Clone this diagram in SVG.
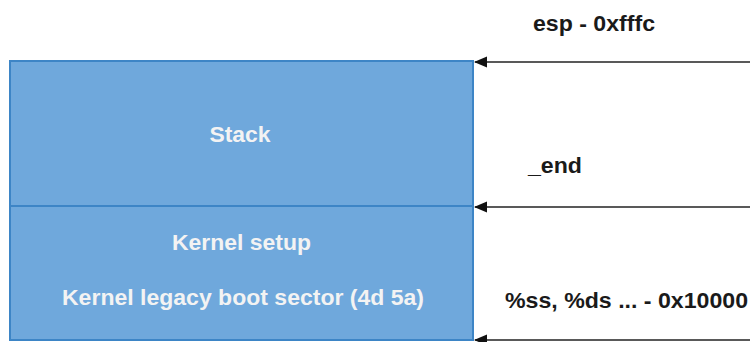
<svg xmlns="http://www.w3.org/2000/svg" width="750" height="342" viewBox="0 0 750 342">
<style>
.box{fill:#6fa8dc;stroke:#3d85c6;stroke-width:2}
.in{font-family:"Liberation Sans",Arial,sans-serif;font-weight:bold;font-size:22px;fill:#f3f3f3;text-anchor:middle}
.lbl{font-family:"Liberation Sans",Arial,sans-serif;font-weight:bold;font-size:22px;fill:#1a1a1a}
.arr{stroke:#595959;stroke-width:2;fill:none;marker-end:url(#ah)}
</style>
<defs>
<marker id="ah" markerWidth="14" markerHeight="14" refX="12" refY="7" orient="auto" markerUnits="userSpaceOnUse">
<path d="M0,1.5 L13,7 L0,12.5 Z" fill="#111"/>
</marker>
</defs>
<rect width="750" height="342" fill="#fff"/>
<g id="stack">
<rect class="box" x="10" y="61" width="463" height="145"/>
<text class="in" x="240" y="142" textLength="61" lengthAdjust="spacingAndGlyphs">Stack</text>
</g>
<g id="kernel">
<rect class="box" x="10" y="206" width="463" height="134"/>
<text class="in" x="241.5" y="250" textLength="139" lengthAdjust="spacingAndGlyphs">Kernel setup</text>
<text class="in" x="243" y="305" textLength="362" lengthAdjust="spacingAndGlyphs">Kernel legacy boot sector (4d 5a)</text>
</g>
<g id="connectors">
<line class="arr" x1="750" y1="62" x2="475" y2="62"/>
<line class="arr" x1="750" y1="207" x2="475" y2="207"/>
<line class="arr" x1="750" y1="340" x2="475" y2="340"/>
</g>
<g id="labels">
<text class="lbl" x="533" y="31" textLength="122" lengthAdjust="spacingAndGlyphs">esp - 0xfffc</text>
<text class="lbl" x="528" y="173" textLength="54" lengthAdjust="spacingAndGlyphs">_end</text>
<text class="lbl" x="505" y="308" textLength="243" lengthAdjust="spacingAndGlyphs">%ss, %ds ... - 0x10000</text>
</g>
</svg>
